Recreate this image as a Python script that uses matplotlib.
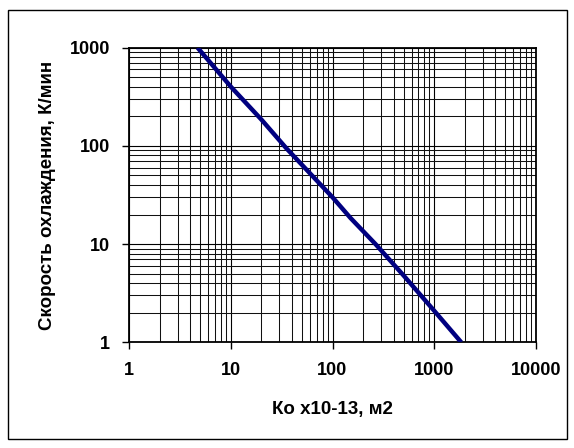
import matplotlib
matplotlib.use("Agg")
import matplotlib.pyplot as plt
from matplotlib.patches import Rectangle
from matplotlib.ticker import FixedLocator, FixedFormatter, LogLocator, NullFormatter

# Data
ko = [4.7, 10, 20, 35, 100, 150, 265, 500, 1000, 1850]
rate = [1000, 400, 185, 95, 30, 18.5, 10, 4.8, 2.1, 1]

x_ticks = [1, 10, 100, 1000, 10000]
x_tick_labels = ["1", "10", "100", "1000", "10000"]
y_ticks = [1, 10, 100, 1000]
y_tick_labels = ["1", "10", "100", "1000"]

x_title = "Ко x10-13, м2"
y_title = "Скорость охлаждения, К/мин"

plt.rcParams['font.family'] = ['Liberation Sans', 'DejaVu Sans']
plt.rcParams['font.weight'] = 'bold'

W, H = 574, 448
fig = plt.figure(figsize=(W / 100, H / 100), dpi=100)

# outer chart border
fig.patches.append(Rectangle((8 / W, (H - 439) / H), 559 / W, 429 / H,
                             transform=fig.transFigure, fill=False,
                             edgecolor='black', linewidth=1.0))

left, right, top, bottom = 129.3, 535.7, 47.7, 342.3
ax = fig.add_axes([left / W, (H - bottom) / H, (right - left) / W, (bottom - top) / H])

ax.plot(ko, rate, color='#000080', linewidth=3.2, solid_capstyle='butt',
        solid_joinstyle='round', zorder=3)

ax.set_xscale('log')
ax.set_yscale('log')
ax.set_xlim(1, 10000)
ax.set_ylim(1, 1000)

ax.xaxis.set_major_locator(FixedLocator(x_ticks))
ax.xaxis.set_major_formatter(FixedFormatter(x_tick_labels))
ax.yaxis.set_major_locator(FixedLocator(y_ticks))
ax.yaxis.set_major_formatter(FixedFormatter(y_tick_labels))
ax.xaxis.set_minor_locator(LogLocator(base=10, subs=range(2, 10)))
ax.yaxis.set_minor_locator(LogLocator(base=10, subs=range(2, 10)))
ax.xaxis.set_minor_formatter(NullFormatter())
ax.yaxis.set_minor_formatter(NullFormatter())

ax.grid(which='major', color='black', linewidth=0.8)
ax.grid(which='minor', color='#111111', linewidth=0.75)
ax.set_axisbelow(True)

ax.tick_params(which='major', direction='out', length=5, width=1.0,
               labelsize=13, pad=9, top=False, right=False)
ax.tick_params(which='minor', length=0)
for lab in ax.get_xticklabels() + ax.get_yticklabels():
    lab.set_fontweight('bold')

for s in ax.spines.values():
    s.set_color('black')
    s.set_linewidth(1.3)

ax.set_xlabel(x_title, fontsize=13.5, fontweight='bold', labelpad=16)
ax.set_ylabel(y_title, fontsize=13.5, fontweight='bold', labelpad=10)

fig.savefig('out.png', dpi=100)
